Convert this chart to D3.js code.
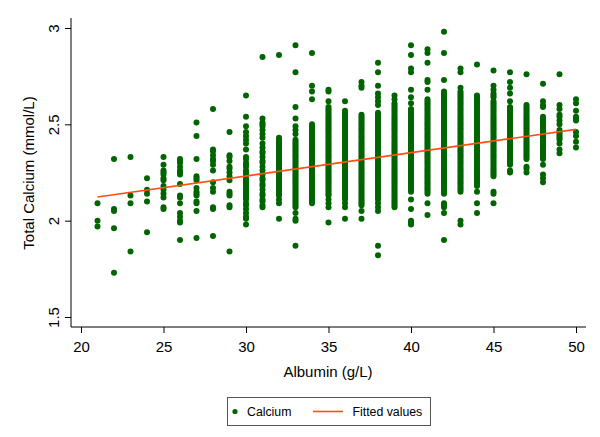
<!DOCTYPE html>
<html>
<head>
<meta charset="utf-8">
<script src="https://cdn.jsdelivr.net/npm/d3@7"></script>
<style>
  body { margin: 0; background: #fff; }
  text { font-family: "Liberation Sans", Arial, Helvetica, sans-serif; fill: #000; }
</style>
</head>
<body>
<svg id="chart"></svg>
<script>
// albumin (g/L), one column of readings per value
const albumin = [21, 22, 23, 24, 25, 26, 27, 28, 29, 30, 31, 32, 33, 34, 35,
                 36, 37, 38, 39, 40, 41, 42, 43, 44, 45, 46, 47, 48, 49, 50];

// total calcium readings for each albumin value, in hundredths of mmol/L
const calcium = [
  [209, 200, 197],
  [232, 206, 205, 196, 173],
  [233, 213, 209, 184],
  [222, 216, 214, 210, 194],
  [233, 229, 226, 225, 224, 222, 221, 218, 216, 214, 212, 207, 206],
  [232, 231, 230, 228, 226, 225, 224, 219, 213, 212, 209, 204, 202, 200, 199, 190],
  [251, 244, 232, 223, 222, 221, 217, 215, 214, 213, 210, 209, 205, 191],
  [258, 237, 236, 234, 232, 231, 229, 226, 220, 217, 215, 207, 206, 192],
  [246, 234, 233, 231, 228, 227, 225, 223, 221, 215, 214, 213, 208, 207, 184],
  [265, 254, 249, 246, 244, 242, 240, 237, 233, 232, 230, 229, 228, 226, 225, 224, 222, 221, 220,
   219, 218, 217, 216, 215, 214, 213, 212, 211, 209, 208, 206, 204, 202, 201, 198],
  [285, 253, 251, 250, 249, 247, 245, 243, 240, 238, 236, 235, 233, 231, 230, 228, 226, 224, 222,
   221, 219, 218, 216, 214, 213, 211, 210, 208, 207],
  [286, 243, 242, 241, 240, 239, 238, 237, 236, 235, 234, 233, 232, 231, 230, 229, 228, 227, 226,
   225, 224, 223, 222, 221, 220, 219, 218, 217, 216, 215, 214, 213, 211, 209, 201],
  [291, 277, 259, 253, 249, 247, 245, 242, 241, 240, 239, 238, 237, 236, 235, 234, 233, 232, 231,
   230, 229, 228, 227, 226, 225, 224, 223, 222, 221, 220, 219, 218, 217, 216, 215, 214, 213, 212,
   211, 210, 209, 208, 207, 204, 201, 200, 187],
  [287, 270, 267, 263, 250, 249, 248, 247, 246, 245, 244, 243, 242, 241, 240, 239, 238, 237, 236,
   235, 234, 233, 232, 231, 230, 229, 228, 227, 226, 225, 224, 223, 222, 221, 220, 219, 218, 217,
   216, 215, 214, 213, 212, 211, 210, 209],
  [268, 267, 262, 259, 258, 257, 256, 255, 254, 253, 252, 251, 250, 249, 248, 247, 246, 245, 244,
   243, 242, 241, 240, 239, 238, 237, 236, 235, 234, 233, 232, 231, 230, 229, 228, 227, 226, 225,
   224, 223, 222, 221, 220, 219, 218, 217, 216, 215, 214, 213, 211, 209, 207, 199],
  [262, 257, 256, 255, 254, 253, 252, 251, 250, 249, 248, 247, 246, 245, 244, 243, 242, 241, 240,
   239, 238, 237, 236, 235, 234, 233, 232, 231, 230, 229, 228, 227, 226, 225, 224, 223, 222, 221,
   220, 219, 218, 217, 216, 215, 214, 213, 212, 211, 209, 207, 201],
  [272, 270, 269, 255, 254, 253, 252, 251, 250, 249, 248, 247, 246, 245, 244, 243, 242, 241, 240,
   239, 238, 237, 236, 235, 234, 233, 232, 231, 230, 229, 228, 227, 226, 225, 224, 223, 222, 221,
   220, 219, 218, 217, 216, 215, 214, 213, 212, 211, 210, 209, 208, 205, 201],
  [282, 277, 270, 266, 264, 262, 260, 256, 255, 254, 253, 252, 251, 250, 249, 248, 247, 246, 245,
   244, 243, 242, 241, 240, 239, 238, 237, 236, 235, 234, 233, 232, 231, 230, 229, 228, 227, 226,
   225, 224, 223, 222, 221, 220, 219, 218, 217, 216, 215, 214, 213, 212, 211, 209, 207, 205, 187, 182],
  [265, 263, 261, 260, 259, 258, 257, 256, 255, 254, 253, 252, 251, 250, 249, 248, 247, 246, 245,
   244, 243, 242, 241, 240, 239, 238, 237, 236, 235, 234, 233, 232, 231, 230, 229, 228, 227, 226,
   225, 224, 223, 222, 221, 220, 219, 218, 217, 216, 215, 214, 213, 212, 211, 210, 209, 208, 207],
  [291, 286, 279, 277, 268, 264, 261, 258, 257, 256, 255, 254, 253, 252, 251, 250, 249, 248, 247,
   246, 245, 244, 243, 242, 241, 240, 239, 238, 237, 236, 235, 234, 233, 232, 231, 230, 229, 228,
   227, 226, 225, 224, 223, 222, 221, 220, 219, 218, 217, 216, 215, 211, 206, 200, 199, 198],
  [289, 287, 282, 273, 272, 268, 263, 262, 261, 260, 259, 258, 257, 256, 255, 254, 253, 252, 251,
   250, 249, 248, 247, 246, 245, 244, 243, 242, 241, 240, 239, 238, 237, 236, 235, 234, 233, 232,
   231, 230, 229, 228, 227, 226, 225, 224, 223, 222, 221, 220, 219, 218, 217, 216, 215, 214, 209, 203],
  [298, 287, 273, 267, 266, 265, 264, 263, 262, 261, 260, 259, 258, 257, 256, 255, 254, 253, 252,
   251, 250, 249, 248, 247, 246, 245, 244, 243, 242, 241, 240, 239, 238, 237, 236, 235, 234, 233,
   232, 231, 230, 229, 228, 227, 226, 225, 224, 223, 222, 221, 220, 219, 218, 217, 216, 215, 214,
   209, 208, 207, 204, 190],
  [279, 277, 269, 267, 266, 265, 264, 263, 262, 261, 260, 259, 258, 257, 256, 255, 254, 253, 252,
   251, 250, 249, 248, 247, 246, 245, 244, 243, 242, 241, 240, 239, 238, 237, 236, 235, 234, 233,
   232, 231, 230, 229, 228, 227, 226, 225, 224, 223, 222, 221, 220, 219, 218, 217, 216, 215, 200, 198],
  [281, 265, 264, 263, 262, 261, 260, 259, 258, 257, 256, 255, 254, 253, 252, 251, 250, 249, 248,
   247, 246, 245, 244, 243, 242, 241, 240, 239, 238, 237, 236, 235, 234, 233, 232, 231, 230, 229,
   228, 227, 226, 225, 224, 223, 222, 221, 220, 219, 218, 215, 209, 204],
  [278, 270, 268, 266, 265, 264, 262, 261, 260, 259, 258, 257, 256, 255, 254, 253, 252, 251, 250,
   249, 248, 247, 246, 245, 244, 243, 242, 241, 240, 239, 238, 237, 236, 235, 234, 233, 232, 231,
   230, 229, 228, 227, 226, 225, 224, 223, 215, 214, 209],
  [277, 272, 269, 266, 262, 259, 258, 257, 256, 255, 254, 253, 252, 251, 250, 249, 248, 247, 246,
   245, 244, 243, 242, 241, 240, 239, 238, 237, 236, 235, 234, 233, 232, 231, 230, 229, 226, 225],
  [276, 260, 259, 258, 257, 256, 255, 254, 253, 252, 251, 250, 249, 248, 247, 246, 245, 244, 243,
   242, 241, 240, 239, 238, 237, 236, 235, 234, 233, 232, 228, 227, 225],
  [271, 262, 260, 259, 254, 253, 252, 251, 250, 249, 248, 247, 246, 245, 244, 243, 242, 241, 240,
   239, 238, 237, 236, 235, 234, 233, 232, 229, 224, 222, 220],
  [276, 260, 258, 255, 254, 252, 250, 247, 246, 245, 244, 243, 242, 240, 237, 235],
  [263, 261, 257, 254, 253, 252, 246, 244, 241, 238]
];

// fitted values (linear fit), read at the ends of the line
const fitAlbumin = [21, 50];
const fitCalcium = [2.123, 2.474];

const xTicks = [20, 25, 30, 35, 40, 45, 50];
const yTicks = [1.5, 2, 2.5, 3];
const legendLabels = ["Calcium", "Fitted values"];

var width = 600, height = 437;
var dotColor = "#006400", lineColor = "#ff4f12";

var svg = d3.select("#chart")
        .attr("width", width)
        .attr("height", height);

svg.append("rect").attr("width", width).attr("height", height).attr("fill", "#fff");

var x = d3.scaleLinear().domain([20, 50]).range([81, 576]);
var y = d3.scaleLinear().domain([1.5, 3]).range([317, 28]);

var points = [];
albumin.forEach(function (a, i) {
        calcium[i].forEach(function (c) { points.push({ a: a, c: c / 100 }); });
});

// scatter
svg.append("g").selectAll("circle")
        .data(points)
        .enter().append("circle")
        .attr("cx", d => x(d.a))
        .attr("cy", d => y(d.c))
        .attr("r", 3)
        .attr("fill", dotColor);

// fitted line
var fit = fitAlbumin.map((a, i) => ({ a: a, c: fitCalcium[i] }));
svg.append("path")
        .datum(fit)
        .attr("fill", "none")
        .attr("stroke", lineColor)
        .attr("stroke-width", 1.6)
        .attr("d", d3.line().x(d => x(d.a)).y(d => y(d.c)));

// x axis
var gx = svg.append("g")
        .attr("transform", "translate(0,327)")
        .call(d3.axisBottom(x).tickValues(xTicks).tickSize(6).tickFormat(d3.format("d")));
gx.select(".domain").remove();
gx.selectAll("line").attr("stroke", "#000");
gx.selectAll("text").attr("y", 25).attr("dy", 0).style("font-size", "15px");
svg.append("line").attr("x1", 71).attr("x2", 586).attr("y1", 327).attr("y2", 327)
        .attr("stroke", "#000").attr("stroke-width", 1);

// y axis
var gy = svg.append("g")
        .attr("transform", "translate(71,0)")
        .call(d3.axisLeft(y).tickValues(yTicks).tickSize(6).tickFormat(d3.format("")));
gy.select(".domain").remove();
gy.selectAll("line").attr("stroke", "#000");
gy.selectAll("text")
        .attr("transform", "rotate(-90)")
        .attr("x", 0).attr("y", -12).attr("dy", 0)
        .attr("text-anchor", "middle")
        .style("font-size", "15px");
svg.append("line").attr("x1", 71).attr("x2", 71).attr("y1", 18).attr("y2", 327)
        .attr("stroke", "#000").attr("stroke-width", 1);

// axis titles
svg.append("text")
        .attr("x", 328).attr("y", 377)
        .attr("text-anchor", "middle")
        .style("font-size", "15px")
        .text("Albumin (g/L)");
svg.append("text")
        .attr("transform", "translate(34,173) rotate(-90)")
        .attr("text-anchor", "middle")
        .style("font-size", "15px")
        .text("Total Calcium (mmol/L)");

// legend
var lg = svg.append("g");
lg.append("rect")
        .attr("x", 227.5).attr("y", 397.5).attr("width", 203).attr("height", 28)
        .attr("fill", "#fff").attr("stroke", "#555").attr("stroke-width", 1);
lg.append("circle").attr("cx", 235).attr("cy", 411.5).attr("r", 2.6).attr("fill", dotColor);
lg.append("text").attr("x", 247).attr("y", 416).style("font-size", "12.3px").text(legendLabels[0]);
lg.append("line").attr("x1", 313).attr("x2", 343).attr("y1", 411.5).attr("y2", 411.5)
        .attr("stroke", lineColor).attr("stroke-width", 1.6);
lg.append("text").attr("x", 352.5).attr("y", 416).style("font-size", "12.3px").text(legendLabels[1]);
</script>
</body>
</html>
